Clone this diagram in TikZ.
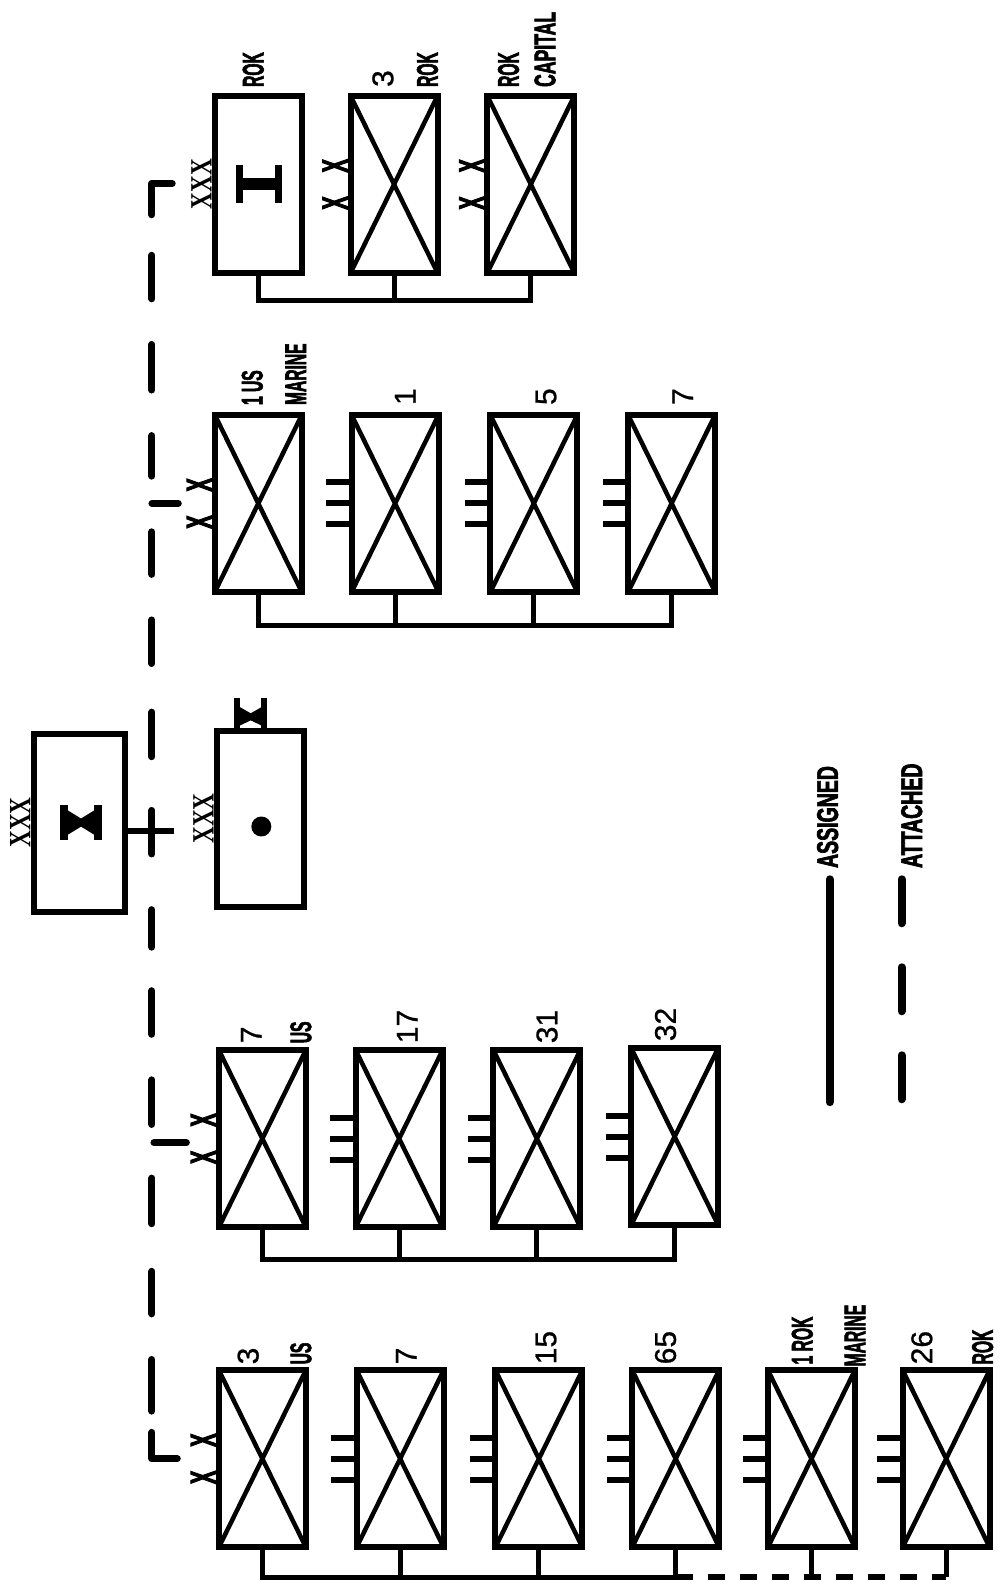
\documentclass[tikz,border=0pt]{standalone}
\usepackage{graphicx}
\usepackage{fontspec}
\setmainfont{Liberation Sans}
\newfontfamily\condf{Liberation Sans}[FakeStretch=0.52, FakeBold=1.8]
\newfontfamily\echf{Liberation Sans}[FakeStretch=0.55, FakeBold=2.5]
\newfontfamily\digf{Liberation Sans}[FakeBold=0.8]
\newfontfamily\serf{Liberation Serif}
\begin{document}
\begin{tikzpicture}[x=1.013pt,y=-1.013pt,
  unitbox/.style={draw, line width=6pt, minimum width=87pt, minimum height=177pt, inner sep=0pt, outer sep=0pt},
  xbox/.style={unitbox, path picture={\draw[line width=4.5pt]
     (path picture bounding box.north west) -- (path picture bounding box.south east)
     (path picture bounding box.north east) -- (path picture bounding box.south west);}},
  conn/.style={line width=5pt},
  lab/.style={rotate=90, anchor=west, inner sep=0pt, font=\condf\bfseries\fontsize{30}{30}\selectfont},
  num/.style={rotate=90, anchor=west, inner sep=0pt, font=\digf\fontsize{30}{30}\selectfont},
  xxsym/.style={rotate=90, anchor=south, inner sep=0pt, font=\echf\bfseries\fontsize{36}{36}\selectfont},
  xxxsym/.style={rotate=90, anchor=south, inner sep=0pt, font=\serf\bfseries\fontsize{31}{31}\selectfont},
  seg/.style={line width=7pt, line cap=round, line join=round},
  regbar/.style={line width=6pt},
]
\useasboundingbox (0pt,0pt) rectangle (1004pt,-1587pt);
\fill[white] (0pt,0pt) rectangle (1004pt,-1587pt);

% ---------------- ROK I Corps row ----------------
\node[unitbox] (r1) at (255,182) {};
\begin{scope}[shift={(r1.center)}]
  \fill (-22,-19) rectangle (-15,18);
  \fill (16,-19) rectangle (23,18);
  \fill (-15,-6) rectangle (16,6);
\end{scope}
\node[xbox] (r2) at (389,182) {};
\node[xbox] (r3) at (524,182) {};
\node[xxxsym] (r1e) at ([xshift=-3pt]r1.west) {\scalebox{0.75}[1]{XXX}};
\node[xxsym] (r2e) at ([xshift=-3pt]r2.west) {X\kern24pt X};
\node[xxsym] (r3e) at ([xshift=-3pt]r3.west) {X\kern24pt X};
\node[lab] (r1l) at (250,86) {ROK};
\node[num] (r2n) at (378,86) {3};
\node[lab] (r2l) at (422,86) {ROK};
\node[lab] (r3a) at (502,86) {ROK};
\node[lab] (r3b) at (538,86) {\scalebox{1.13}[1]{CAPITAL}};
\coordinate (rbus) at (0,297);
\draw[conn] (r1.south) -- (r1.south |- rbus) -- (r3.south |- rbus) -- (r3.south);
\draw[conn] (r2.south) -- (r2.south |- rbus);

% ---------------- 1 US Marine row ----------------
\node[xbox] (m1) at (255,497) {};
\node[xbox] (m2) at (390,497) {};
\node[xbox] (m3) at (527,497) {};
\node[xbox] (m4) at (663,497) {};
\node[xxsym] (m1e) at ([xshift=-3pt]m1.west) {X\kern24pt X};
\foreach \b in {m2,m3,m4}{
  \foreach \o in {-21,0,21}{\draw[regbar] ([yshift=\o pt]\b.west) -- ++(-25,0);}
}
\node[lab] (m1a) at (249,400) {1 US};
\node[lab] (m1b) at (292,400) {MARINE};
\node[num] (m2n) at (400,400) {1};
\node[num] (m3n) at (539,400) {5};
\node[num] (m4n) at (674,400) {7};
\coordinate (mbus) at (0,617);
\draw[conn] (m1.south) -- (m1.south |- mbus) -- (m4.south |- mbus) -- (m4.south);
\draw[conn] (m2.south) -- (m2.south |- mbus);
\draw[conn] (m3.south) -- (m3.south |- mbus);

% ---------------- X Corps HQ and artillery ----------------
\node[unitbox, minimum width=91pt, minimum height=178pt] (hq) at (78,812) {};
\begin{scope}[shift={(hq.center)}]
  \fill (-19,-17) rectangle (-11,17);
  \fill (15,-17) rectangle (23,17);
  \fill (-11,-12) -- (2,-4) -- (15,-12) -- (15,12) -- (2,4) -- (-11,12) -- cycle;
\end{scope}
\node[xxxsym] (hqe) at ([xshift=-3pt]hq.west) {\scalebox{0.75}[1]{XXX}};
\node[unitbox, minimum width=87pt, minimum height=176pt] (art) at (257,808) {};
\fill ([xshift=1pt,yshift=-8pt]art.center) circle (10pt);
\node[xxxsym] (arte) at ([xshift=-3pt]art.west) {\scalebox{0.75}[1]{XXX}};
\begin{scope}[shift={(art.north)}]
  \fill (-26,-32) rectangle (-20,0);
  \fill (1,-32) rectangle (7,0);
  \fill (-20,-23) -- (-9.5,-17) -- (1,-23) -- (1,-5) -- (-9.5,-10) -- (-20,-5) -- cycle;
\end{scope}
\coordinate (hqt) at (172,820);
\draw[line width=6pt] (hq.east |- hqt) -- (hqt);

% ---------------- 7 US row ----------------
\node[xbox] (s1) at (259,1124) {};
\node[xbox] (s2) at (394,1124) {};
\node[xbox] (s3) at (530,1124) {};
\node[xbox] (s4) at (666,1122) {};
\node[xxsym] (s1e) at ([xshift=-3pt]s1.west) {X\kern24pt X};
\foreach \b in {s2,s3,s4}{
  \foreach \o in {-21,0,21}{\draw[regbar] ([yshift=\o pt]\b.west) -- ++(-25,0);}
}
\node[num] (s1n) at (248,1030) {7};
\node[lab] (s1l) at (297,1030) {US};
\node[num] (s2n) at (402,1030) {17};
\node[num] (s3n) at (540,1030) {31};
\node[num] (s4n) at (657,1028) {32};
\coordinate (sbus) at (0,1243);
\draw[conn] (s1.south) -- (s1.south |- sbus) -- (s4.south |- sbus) -- (s4.south);
\draw[conn] (s2.south) -- (s2.south |- sbus);
\draw[conn] (s3.south) -- (s3.south |- sbus);

% ---------------- 3 US row ----------------
\node[xbox] (t1) at (259,1440) {};
\node[xbox] (t2) at (395,1440) {};
\node[xbox] (t3) at (532,1440) {};
\node[xbox] (t4) at (667,1440) {};
\node[xbox] (t5) at (801,1440) {};
\node[xbox] (t6) at (934,1440) {};
\node[xxsym] (t1e) at ([xshift=-3pt]t1.west) {X\kern24pt X};
\foreach \b in {t2,t3,t4,t5,t6}{
  \foreach \o in {-21,0,21}{\draw[regbar] ([yshift=\o pt]\b.west) -- ++(-25,0);}
}
\node[num] (t1n) at (245,1347) {3};
\node[lab] (t1l) at (297,1347) {US};
\node[num] (t2n) at (401,1347) {7};
\node[num] (t3n) at (539,1347) {15};
\node[num] (t4n) at (657,1347) {65};
\node[lab] (t5a) at (792,1347) {1 ROK};
\node[lab] (t5b) at (844,1349) {MARINE};
\node[num] (t6n) at (910,1347) {26};
\node[lab] (t6l) at (970,1347) {ROK};
\coordinate (tbus) at (0,1557);
\draw[conn] (t1.south) -- (t1.south |- tbus) -- (t4.south |- tbus) -- (t4.south);
\draw[conn] (t2.south) -- (t2.south |- tbus);
\draw[conn] (t3.south) -- (t3.south |- tbus);
\draw[conn, line width=6pt, dash pattern=on 17pt off 15pt] (t4.south |- tbus) -- (t6.south |- tbus);
\draw[conn] (t5.south) -- (t5.south |- tbus);
\draw[conn] (t6.south) -- (t6.south |- tbus);

% ---------------- attached (dashed) line ----------------
\draw[seg] (170,181) -- (150,181) -- (150,212);
\foreach \a/\b in {252/295, 340/385, 430/470, 525/567, 612/655, 703/747, 800/843, 898/935, 978/1021, 1066/1110, 1163/1208, 1255/1297, 1342/1393}
  \draw[seg] (150,\a) -- (150,\b);
\draw[seg] (150,1414) -- (150,1440) -- (175,1440);
\draw[seg] (150,497) -- (176,497);
\draw[seg] (152,1128) -- (184,1128);

% ---------------- legend ----------------
\node[lab] (lasg) at (817,857) {\scalebox{1.25}[1]{ASSIGNED}};
\node[lab] (latt) at (900,857) {\scalebox{1.25}[1]{ATTACHED}};
\coordinate (la1) at (819,868);
\coordinate (la2) at (819,1088);
\coordinate (lb1) at (890,868);
\coordinate (lb2) at (890,1090);
\draw[line width=8pt, line cap=round] (la1) -- (la2);
\draw[line width=8pt, line cap=round, dash pattern=on 44pt off 44pt] (lb1) -- (lb2);
\end{tikzpicture}
\end{document}
